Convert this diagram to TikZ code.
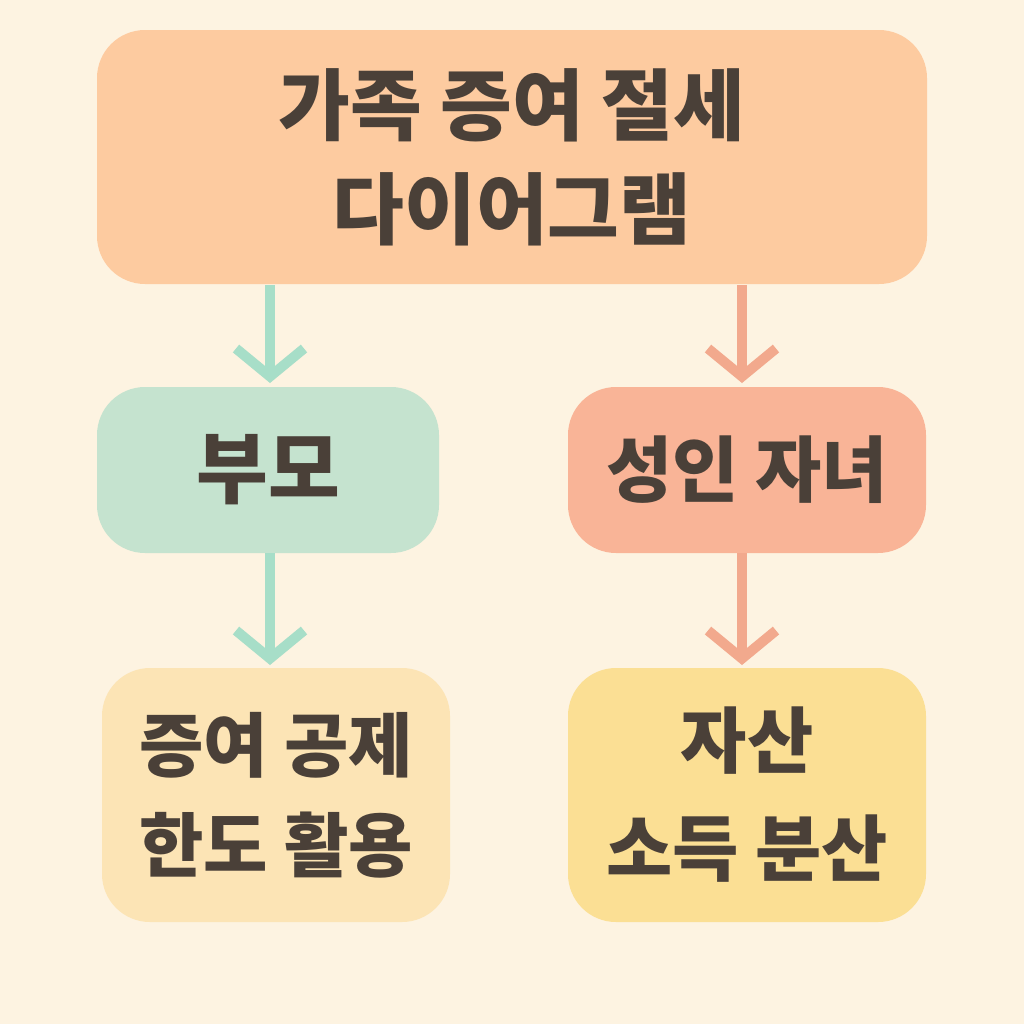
\documentclass[tikz,border=0pt]{standalone}
\usepackage{fontspec}
\newfontfamily\kr{Noto Sans CJK KR}
\usetikzlibrary{arrows.meta}
\definecolor{bg}{HTML}{FDF3E1}
\definecolor{txt}{HTML}{4A4038}
\definecolor{cTitle}{HTML}{FDCBA0}
\definecolor{cGreen}{HTML}{C5E3CF}
\definecolor{cSalmon}{HTML}{F9B497}
\definecolor{cLight}{HTML}{FCE4B5}
\definecolor{cYellow}{HTML}{FBDF94}
\definecolor{aGreen}{HTML}{A7DEC8}
\definecolor{aOrange}{HTML}{F2A98D}
\begin{document}
\begin{tikzpicture}[x=0.5pt,y=-0.5pt,
  box/.style={rounded corners=24pt,draw=none,align=center,text=txt,font=\kr\bfseries,inner sep=0pt},
  arr/.style={line width=5pt,-{Straight Barb[length=14pt,width=34pt,line width=5pt]}}]
\fill[bg] (0,0) rectangle (1024,1024);
\useasboundingbox (0,0) rectangle (1024,1024);
\node[box,fill=cTitle,minimum width=415pt,minimum height=127pt,font=\kr\bfseries\fontsize{39pt}{52pt}\selectfont] (t) at (512,157) {가족 증여 절세\\다이어그램};
\node[box,fill=cGreen,minimum width=171pt,minimum height=83pt,font=\kr\bfseries\fontsize{39pt}{40pt}\selectfont] (p) at (268,470) {부모};
\node[box,fill=cSalmon,minimum width=179pt,minimum height=83pt,font=\kr\bfseries\fontsize{36pt}{40pt}\selectfont] (c) at (747,470) {성인 자녀};
\node[box,fill=cLight,minimum width=174pt,minimum height=127pt,font=\kr\bfseries\fontsize{35pt}{50pt}\selectfont] (g) at (276,795) {증여 공제\\한도 활용};
\node[box,fill=cYellow,minimum width=179pt,minimum height=127pt,font=\kr\bfseries\fontsize{36pt}{54pt}\selectfont] (s) at (747,795) {자산\\소득 분산};
\draw[arr,aGreen] (270,285) -- (270,383);
\draw[arr,aGreen] (p.south -| 270,0) -- (270,665);
\draw[arr,aOrange] (742,285) -- (742,383);
\draw[arr,aOrange] (c.south -| 742,0) -- (742,665);
\end{tikzpicture}
\end{document}
